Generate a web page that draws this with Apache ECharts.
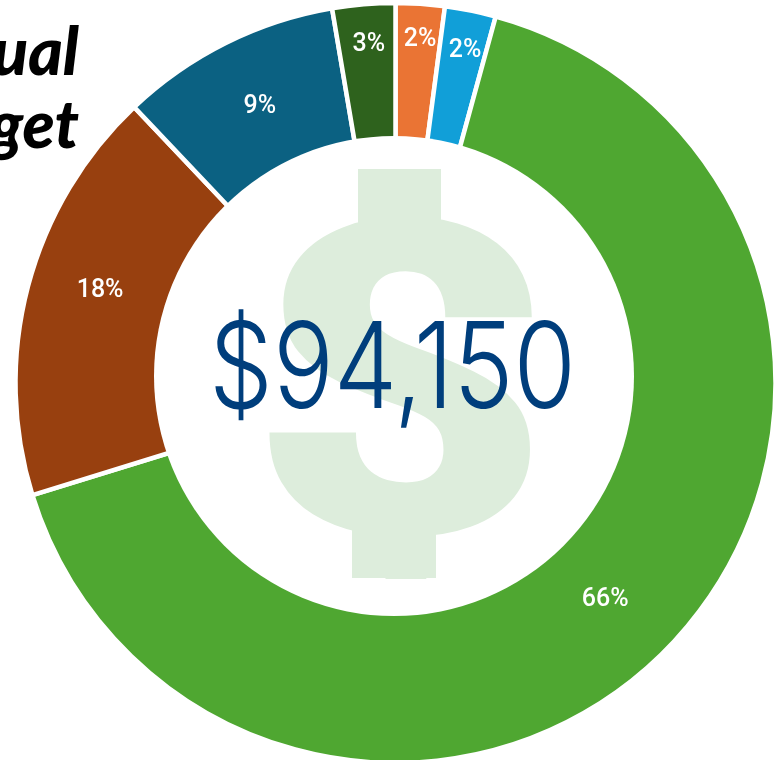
<!DOCTYPE html>
<html><head><meta charset="utf-8">
<style>html,body{margin:0;padding:0;background:#fff}#c{width:780px;height:760px}</style>
<script src="https://cdn.jsdelivr.net/npm/echarts@6/dist/echarts.min.js"></script>
</head><body><div id="c"></div>
<script>
const shares = [2.08, 2.17, 66, 17.7, 9.4, 2.67];
const shareLabels = ['2%','2%','66%','18%','9%','3%'];
const sliceColors = ['#EA7434','#119FD8','#4FA731','#98400F','#0B6182','#2E621D'];
const labelOffsets = [[5.5,-50.6],[11.7,-44.8],[-0.8,13.2],[-12,-17.4],[-4.9,-13.6],[-2.2,-46]];
const titleLines = ['Annual','Budget'];
const totalText = '$94,150';
const chart = echarts.init(document.getElementById('c'), null, {renderer:'canvas'});
chart.setOption({
  animation:false,
  graphic:[
    {type:'text',z:1,style:{x:79,y:54,text:titleLines[0],align:'right',verticalAlign:'middle',font:'italic 900 66px Lato',fill:'#000'}},
    {type:'text',z:1,style:{x:79,y:127,text:titleLines[1],align:'right',verticalAlign:'middle',font:'italic 900 66px Lato',fill:'#000'}},
    {type:'circle',z:6,shape:{cx:394,cy:376,r:240},style:{fill:'#fff'}},
    {type:'text',z:7,x:400.5,y:423,scaleX:1.2,style:{x:0,y:0,text:'$',align:'center',verticalAlign:'middle',font:'900 438px Roboto',fill:'#DDEDDC'}},
    {type:'rect',z:7,shape:{x:358,y:169,width:83,height:56},style:{fill:'#DDEDDC'}},
    {type:'rect',z:7,shape:{x:352,y:522,width:84,height:56},style:{fill:'#DDEDDC'}},
    {type:'text',z:20,x:392.5,y:372,scaleX:0.85,style:{x:0,y:0,text:totalText,align:'center',verticalAlign:'middle',font:'300 119px Inter',fill:'#003E7C'}}
  ],
  series:[{
    type:'pie',z:5,center:[395.5,383],radius:[200,380],startAngle:90,clockwise:true,
    itemStyle:{borderColor:'#fff',borderWidth:4.5},
    label:{position:'inside',color:'#fff',fontFamily:'Roboto',fontSize:25,fontWeight:500},
    labelLine:{show:false},
    data:shares.map((v,i)=>({value:v,itemStyle:{color:sliceColors[i]},
      label:{formatter:shareLabels[i],offset:labelOffsets[i]}}))
  }]
});
</script></body></html>
